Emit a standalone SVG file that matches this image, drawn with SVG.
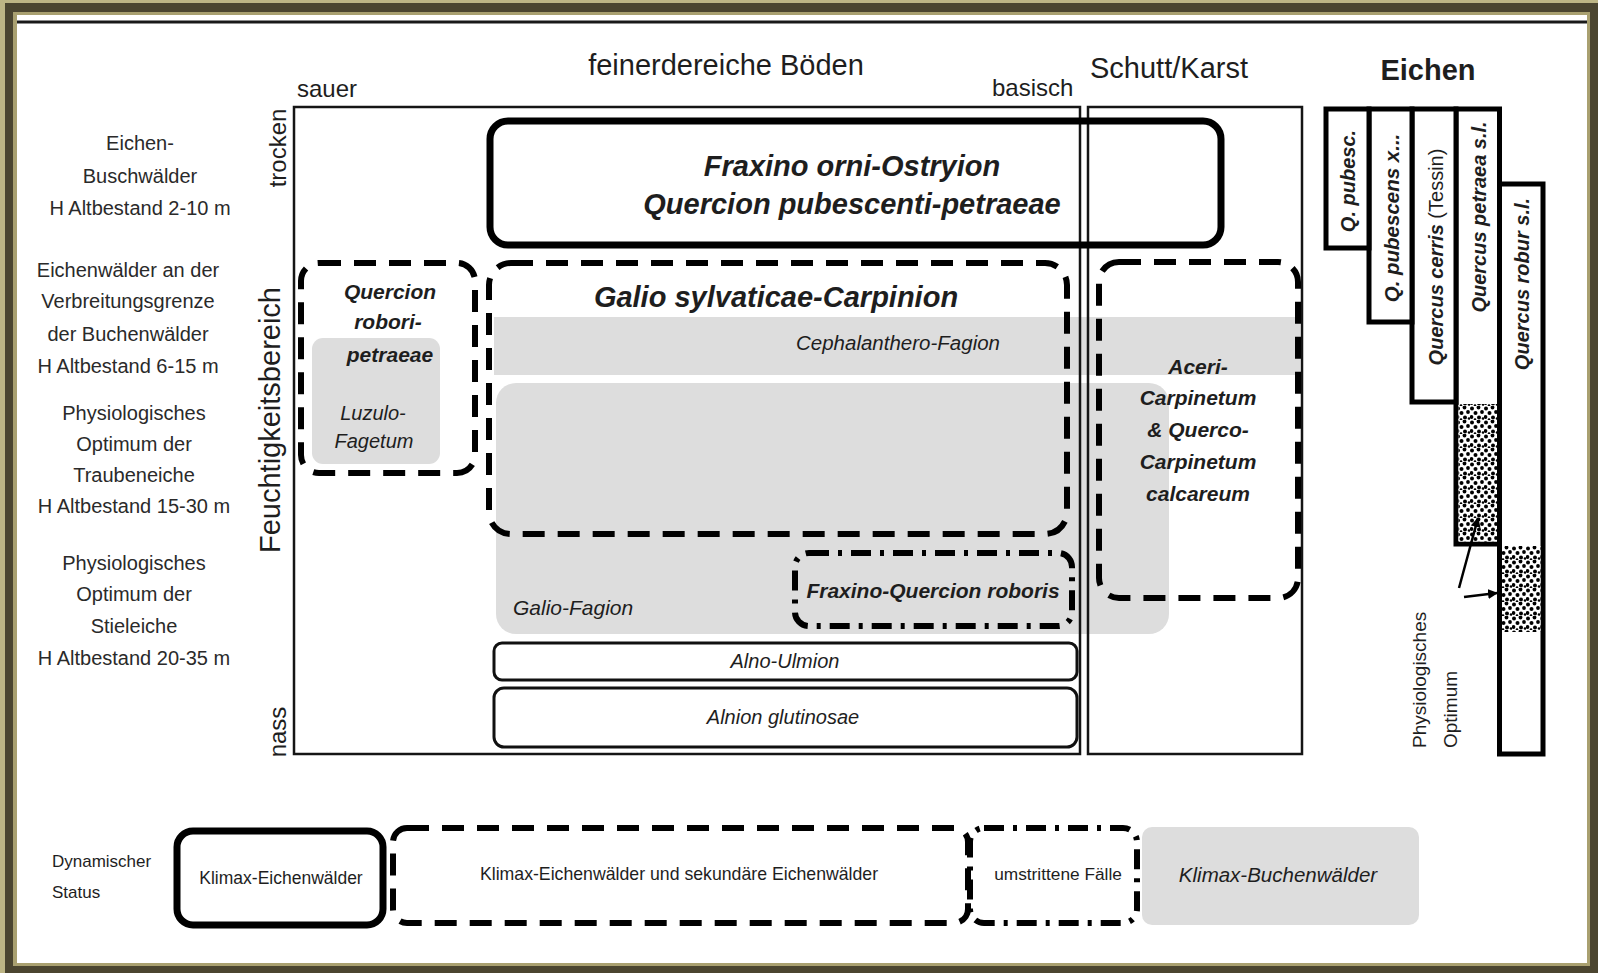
<svg xmlns="http://www.w3.org/2000/svg" width="1598" height="973" viewBox="0 0 1598 973">
<defs>
<style>
text{font-family:"Liberation Sans",Arial,sans-serif;fill:#1e1e1e}
.lab{font-size:20px;text-anchor:middle;fill:#2a2a2a}
.mid{text-anchor:middle}
.bi{font-weight:bold;font-style:italic}
.it{font-style:italic}
.frame{fill:none;stroke:#151515;stroke-width:2.5}
.dash{fill:none;stroke:#000;stroke-width:6;stroke-dasharray:22 13}
.dd{fill:none;stroke:#000;stroke-width:6;stroke-dasharray:20 9 4 9}
.gray{fill:#dddddd}
.col{fill:#fff;stroke:#000;stroke-width:5}
.thin{fill:#fff;stroke:#111;stroke-width:3}
</style>
<pattern id="stip" width="14" height="14" patternUnits="userSpaceOnUse">
<rect width="14" height="14" fill="#fff"/>
<circle cx="2" cy="2.5" r="2" fill="#000"/>
<circle cx="8.5" cy="1.5" r="1.9" fill="#000"/>
<circle cx="5.5" cy="7" r="2" fill="#000"/>
<circle cx="12" cy="6" r="1.9" fill="#000"/>
<circle cx="1.5" cy="11" r="1.9" fill="#000"/>
<circle cx="9" cy="11.5" r="2" fill="#000"/>
<circle cx="13" cy="12.5" r="1.3" fill="#000"/>
<circle cx="5" cy="13.5" r="1.3" fill="#000"/>
</pattern>
<marker id="ah" viewBox="0 0 10 10" refX="9" refY="5" markerWidth="4" markerHeight="4" orient="auto"><path d="M0,0 L10,5 L0,10 z" fill="#000"/></marker>
</defs>

<g id="frame">
<rect width="1598" height="973" fill="#bdb585"/>
<rect x="5" y="3" width="1593" height="970" fill="#4b4530"/>
<rect x="13" y="12" width="1577" height="954" fill="#a9a070"/>
<rect x="17" y="15" width="1570" height="948" fill="#ffffff"/>
<line x1="17" y1="22" x2="1587" y2="22" stroke="#1a1a1a" stroke-width="3"/>
</g>

<g id="left-labels">
<text class="lab" x="140" y="150">Eichen-</text>
<text class="lab" x="140" y="183">Buschwälder</text>
<text class="lab" x="140" y="215">H Altbestand 2-10 m</text>
<text class="lab" x="128" y="277">Eichenwälder an der</text>
<text class="lab" x="128" y="308">Verbreitungsgrenze</text>
<text class="lab" x="128" y="341">der Buchenwälder</text>
<text class="lab" x="128" y="373">H Altbestand 6-15 m</text>
<text class="lab" x="134" y="420">Physiologisches</text>
<text class="lab" x="134" y="451">Optimum der</text>
<text class="lab" x="134" y="482">Traubeneiche</text>
<text class="lab" x="134" y="513">H Altbestand 15-30 m</text>
<text class="lab" x="134" y="570">Physiologisches</text>
<text class="lab" x="134" y="601">Optimum der</text>
<text class="lab" x="134" y="633">Stieleiche</text>
<text class="lab" x="134" y="665">H Altbestand 20-35 m</text>
</g>

<g id="axis-labels">
<text x="726" y="75" font-size="29" class="mid">feinerdereiche Böden</text>
<text x="1169" y="78" font-size="29" class="mid">Schutt/Karst</text>
<text x="297" y="97" font-size="24">sauer</text>
<text x="992" y="96" font-size="24">basisch</text>
<text transform="translate(286,148) rotate(-90)" font-size="24" class="mid">trocken</text>
<text transform="translate(286,732) rotate(-90)" font-size="24" class="mid">nass</text>
<text transform="translate(280,420) rotate(-90)" font-size="29" class="mid">Feuchtigkeitsbereich</text>
<text x="1428" y="80" font-size="29" font-weight="bold" class="mid">Eichen</text>
</g>

<g id="gray-areas">
<rect id="cephalanthero-band" class="gray" x="494" y="317" width="806" height="58"/>
<rect id="galio-fagion-area" class="gray" x="496" y="383" width="673" height="251" rx="20"/>
<rect id="luzulo-area" class="gray" x="312" y="338" width="128" height="126" rx="11"/>
</g>

<g id="soil-boxes">
<rect class="frame" x="294" y="107" width="786" height="647"/>
<rect class="frame" x="1088" y="107" width="214" height="647"/>
</g>

<g id="fraxino-orni">
<rect x="490" y="121" width="731" height="124" rx="18" fill="none" stroke="#000" stroke-width="7"/>
<text x="852" y="176" font-size="29" class="bi mid">Fraxino orni-Ostryion</text>
<text x="852" y="214" font-size="29" class="bi mid">Quercion pubescenti-petraeae</text>
</g>

<g id="quercion-robori">
<rect class="dash" x="301" y="263" width="174" height="210" rx="18"/>
<text x="390" y="299" font-size="21" class="bi mid">Quercion</text>
<text x="388" y="329" font-size="21" class="bi mid">robori-</text>
<text x="390" y="362" font-size="21" class="bi mid">petraeae</text>
</g>

<g id="luzulo-fagetum">
<text x="373" y="420" font-size="20" class="it mid" fill="#333">Luzulo-</text>
<text x="374" y="448" font-size="20" class="it mid" fill="#333">Fagetum</text>
</g>

<g id="galio-carpinion">
<rect class="dash" x="489" y="263" width="578" height="271" rx="22"/>
<text x="776" y="307" font-size="29" class="bi mid">Galio sylvaticae-Carpinion</text>
</g>

<g id="cephalanthero-fagion">
<text x="898" y="350" font-size="20.5" class="it mid" fill="#333">Cephalanthero-Fagion</text>
</g>

<g id="galio-fagion">
<text x="513" y="615" font-size="21" class="it" fill="#333">Galio-Fagion</text>
</g>

<g id="fraxino-quercion">
<rect class="dd" x="795" y="553" width="277" height="73" rx="14"/>
<text x="933" y="598" font-size="21" class="bi mid">Fraxino-Quercion roboris</text>
</g>

<g id="alno-ulmion">
<rect class="thin" x="494" y="643" width="583" height="37" rx="8"/>
<text x="785" y="668" font-size="20" class="it mid">Alno-Ulmion</text>
</g>

<g id="alnion-glutinosae">
<rect class="thin" x="494" y="688" width="583" height="59" rx="10"/>
<text x="783" y="724" font-size="20" class="it mid">Alnion glutinosae</text>
</g>

<g id="aceri-carpinetum">
<rect class="dash" x="1099" y="262" width="199" height="336" rx="20"/>
<text x="1198" y="374" font-size="21" class="bi mid">Aceri-</text>
<text x="1198" y="405" font-size="21" class="bi mid">Carpinetum</text>
<text x="1198" y="437" font-size="21" class="bi mid">&amp; Querco-</text>
<text x="1198" y="469" font-size="21" class="bi mid">Carpinetum</text>
<text x="1198" y="501" font-size="21" class="bi mid">calcareum</text>
</g>

<g id="quercus-robur">
<rect class="col" x="1499.5" y="184" width="43.5" height="570"/>
<rect x="1502" y="546" width="38.5" height="86" fill="url(#stip)"/>
<text transform="translate(1529,284) rotate(-90)" font-size="20" class="bi mid">Quercus robur s.l.</text>
</g>
<g id="quercus-petraea">
<rect class="col" x="1456" y="109" width="43.5" height="435"/>
<rect x="1458.5" y="404" width="38.5" height="137.5" fill="url(#stip)"/>
<text transform="translate(1486,217) rotate(-90)" font-size="20" class="bi mid">Quercus petraea s.l.</text>
</g>
<g id="quercus-cerris">
<rect class="col" x="1412" y="109" width="44" height="293"/>
<text transform="translate(1443,257) rotate(-90)" font-size="20" class="mid"><tspan class="bi">Quercus cerris</tspan> (Tessin)</text>
</g>
<g id="q-pubescens-x">
<rect class="col" x="1369" y="109" width="43" height="213"/>
<text transform="translate(1399,218) rotate(-90)" font-size="20.5" class="bi mid">Q. pubescens x...</text>
</g>
<g id="q-pubesc">
<rect class="col" x="1326" y="109" width="43" height="139"/>
<text transform="translate(1355,181) rotate(-90)" font-size="20" class="bi mid">Q. pubesc.</text>
</g>

<g id="optimum-label">
<text transform="translate(1426,748) rotate(-90)" font-size="19">Physiologisches</text>
<text transform="translate(1457,748) rotate(-90)" font-size="19">Optimum</text>
</g>

<g id="connectors">
<line x1="1459" y1="588" x2="1478" y2="518" stroke="#000" stroke-width="2.5" marker-end="url(#ah)"/>
<line x1="1464" y1="597" x2="1497" y2="593" stroke="#000" stroke-width="2.5" marker-end="url(#ah)"/>
</g>

<g id="legend">
<text x="52" y="867" font-size="17">Dynamischer</text>
<text x="52" y="898" font-size="17">Status</text>
<g id="legend-klimax-eichen">
<rect x="177" y="831" width="206" height="94" rx="16" fill="none" stroke="#000" stroke-width="7"/>
<text x="281" y="884" font-size="17.5" class="mid">Klimax-Eichenwälder</text>
</g>
<g id="legend-sekundaer">
<rect class="dash" x="393" y="828" width="575" height="95" rx="14"/>
<text x="679" y="880" font-size="17.7" class="mid">Klimax-Eichenwälder und sekundäre Eichenwälder</text>
</g>
<g id="legend-umstritten">
<rect class="dd" x="970" y="828" width="167" height="95" rx="14"/>
<text x="1058" y="880" font-size="17.3" class="mid">umstrittene Fälle</text>
</g>
<g id="legend-buchen">
<rect class="gray" x="1142" y="827" width="277" height="98" rx="10"/>
<text x="1278" y="882" font-size="20.5" class="it mid">Klimax-Buchenwälder</text>
</g>
</g>
</svg>
